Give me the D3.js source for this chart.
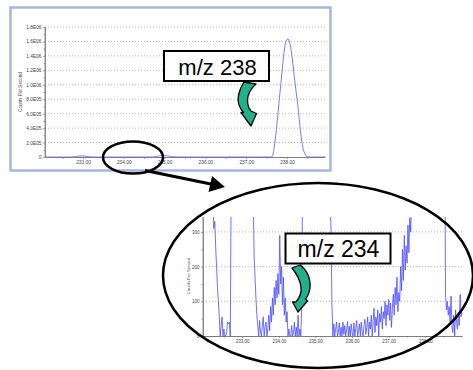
<!DOCTYPE html>
<html><head><meta charset="utf-8">
<script src="https://cdn.jsdelivr.net/npm/d3@7"></script>
<style>body{margin:0;background:#fff} svg{display:block} text{font-family:"Liberation Sans",Arial,sans-serif}</style>
</head><body><svg id="c" width="473" height="370"></svg>
<script>
// ---- DATA ----
const mzStart = 232.0;
const mzStep = 0.025;
const counts = [
  700, 900, 800, 1000, 850, 700, 600, 500,
  400, 310, 330, 260, 200, 140, 100, 55, 0, 30, 55, 0, 20, 0, 0, 10, 40, 35, 40, 0, 450,
  900, 1500, 2500, 4000, 6000, 8500, 11000, 13000, 14500, 15000, 15500, 15000, 14000, 12000, 9500, 7000, 5000, 3200, 2000, 1200, 800, 600, 450,
  420, 230, 170, 110, 60, 30, 0, 45, 10, 0, 30, 55, 0, 25, 40, 0, 20, 60, 15, 85, 40, 110, 60, 140, 90, 160, 110, 180, 120, 290, 150, 200, 90, 170, 60, 110, 40, 70, 0, 20, 0, 0, 30, 0, 10, 40, 0, 25, 0, 60, 0, 20, 0, 80, 500,
  800, 1200, 2000, 3200, 5000, 7500, 10000, 13000, 16000, 18500, 20000, 21000, 21500, 21000, 20000, 18000, 15500, 12500, 9500, 7000, 5000, 3500, 2400, 1700, 1200, 900, 700, 550, 450, 400, 300, 90,
  0, 35, 0, 20, 40, 0, 10, 38, 0, 25, 0, 40, 5, 30, 0, 18, 42, 0, 28, 0, 35, 10, 0, 38, 0, 22, 45, 0, 15, 35, 0, 40, 10, 0, 30, 48, 5, 25, 55, 0, 40,
  20, 60, 0, 45, 80, 10, 55, 30, 75, 0, 65, 40, 85, 20, 70,
  50, 100, 30, 90, 60, 105, 45, 95, 25, 80,
  120, 60, 140, 90, 170, 70, 125, 100,
  200, 130, 250, 160, 290, 190, 260, 210,
  320, 240, 340, 300,
  420, 20000, 90000, 200000, 310000, 440000, 580000, 740000, 880000, 1020000, 1170000, 1310000, 1450000, 1540000, 1600000, 1630000, 1635000, 1610000, 1560000, 1480000, 1380000, 1260000, 1130000, 1010000, 890000, 790000, 660000, 520000, 380000, 260000, 170000, 100000, 60000, 30000, 8000, 2000, 700,
  120, 75, 100, 60, 85, 40, 115, 30, 10, 60, 0, 75, 40, 20, 65, 30, 120, 55, 75
];
const xTickValues = [233, 234, 235, 236, 237, 238];
const xTickLabels = ["233.00", "234.00", "235.00", "236.00", "237.00", "238.00"];
const xMinorTicks = [232.5, 233.5, 234.5, 235.5, 236.5, 237.5, 238.5];
const topYTicks = [0, 200000, 400000, 600000, 800000, 1000000, 1200000, 1400000, 1600000, 1800000];
const topYLabels = ["0", "2.0E05", "4.0E05", "6.0E05", "8.0E05", "1.0E06", "1.2E06", "1.4E06", "1.6E06", "1.8E06"];
const topYMinor = [100000, 300000, 500000, 700000, 900000, 1100000, 1300000, 1500000, 1700000];
const innerYTicks = [0, 100, 200, 300];
const innerYLabels = ["0", "100", "200", "300"];
const innerYMinor = [50, 150, 250];
const yTitle = "Counts Per Second";
const calloutTop = "m/z 238";
const calloutInner = "m/z 234";

const data = counts.map((c, i) => ({ mz: mzStart + i * mzStep, c }));

const svg = d3.select("#c");
const defs = svg.append("defs");

function styleAxis(g, fs, col) {
  g.selectAll("path.domain").attr("stroke", col).attr("stroke-width", 0.8);
  g.selectAll(".tick line").attr("stroke", col).attr("stroke-width", 0.7);
  g.selectAll(".tick text").attr("font-size", fs).attr("fill", "#444")
    .style("font-family", '"Liberation Sans", Arial, sans-serif');
}

// ---------- TOP CHART ----------
svg.append("rect").attr("x", 10.5).attr("y", 7.5).attr("width", 320).attr("height", 163)
  .attr("fill", "#fff").attr("stroke", "#a6b7dc").attr("stroke-width", 2.5);

const xTop = d3.scaleLinear().domain([232.07, 238.93]).range([45, 325]);
const yTop = d3.scaleLinear().domain([0, 1800000]).range([157, 27]);

const gTop = svg.append("g");
gTop.selectAll("line.grid").data(topYTicks.filter(d => d > 0)).join("line")
  .attr("x1", 45).attr("x2", 325).attr("y1", d => yTop(d)).attr("y2", d => yTop(d))
  .attr("stroke", "#999").attr("stroke-width", 0.7).attr("stroke-dasharray", "1,2");

const yAxTop = gTop.append("g").attr("transform", "translate(45,0)")
  .call(d3.axisLeft(yTop).tickValues(topYTicks).tickFormat((d, i) => topYLabels[i]).tickSize(2).tickSizeOuter(0).tickPadding(1.5));
styleAxis(yAxTop, "4.8px", "#777");
const yMinTop = gTop.append("g").attr("transform", "translate(45,0)")
  .call(d3.axisLeft(yTop).tickValues(topYMinor).tickFormat("").tickSize(1.5).tickSizeOuter(0));
styleAxis(yMinTop, "4px", "#777");

const xAxTop = gTop.append("g").attr("transform", "translate(0,157)")
  .call(d3.axisBottom(xTop).tickValues(xTickValues).tickFormat((d, i) => xTickLabels[i]).tickSize(2).tickSizeOuter(0).tickPadding(1.5));
styleAxis(xAxTop, "4.8px", "#777");
const xMinTop = gTop.append("g").attr("transform", "translate(0,157)")
  .call(d3.axisBottom(xTop).tickValues(xMinorTicks).tickFormat("").tickSize(2).tickSizeOuter(0));
styleAxis(xMinTop, "4px", "#777");

gTop.append("text").attr("transform", "translate(22,92) rotate(-90)")
  .attr("text-anchor", "middle").attr("font-size", "4.6px").attr("fill", "#444").text(yTitle);

defs.append("clipPath").attr("id", "clipTop").append("rect")
  .attr("x", 45).attr("y", 20).attr("width", 280).attr("height", 140);
gTop.append("path").datum(data).attr("clip-path", "url(#clipTop)")
  .attr("fill", "none").attr("stroke", "#6b6bf2").attr("stroke-width", 0.9)
  .attr("d", d3.line().x(d => xTop(d.mz)).y(d => yTop(d.c)));

// ---------- INNER (ZOOMED) CHART ----------
const xIn = d3.scaleLinear().domain([231.93, 239.0]).range([203, 462]);
const yIn = d3.scaleLinear().domain([0, 343]).range([336, 217]);
const gIn = svg.append("g");

gIn.selectAll("line.grid").data(innerYTicks.filter(d => d > 0)).join("line")
  .attr("x1", 203).attr("x2", 462).attr("y1", d => yIn(d)).attr("y2", d => yIn(d))
  .attr("stroke", "#999").attr("stroke-width", 0.7).attr("stroke-dasharray", "1,2");

defs.append("clipPath").attr("id", "clipIn").append("rect")
  .attr("x", 203).attr("y", 217).attr("width", 259).attr("height", 120);
gIn.append("path").datum(data).attr("clip-path", "url(#clipIn)")
  .attr("fill", "none").attr("stroke", "#4d4dff").attr("stroke-width", 0.8)
  .attr("d", d3.line().x(d => xIn(d.mz)).y(d => yIn(d.c)));

const yAxIn = gIn.append("g").attr("transform", "translate(203,0)")
  .call(d3.axisLeft(yIn).tickValues(innerYTicks).tickFormat((d, i) => innerYLabels[i]).tickSize(2).tickSizeOuter(0).tickPadding(1.5));
styleAxis(yAxIn, "4.5px", "#777");
const yMinIn = gIn.append("g").attr("transform", "translate(203,0)")
  .call(d3.axisLeft(yIn).tickValues(innerYMinor).tickFormat("").tickSize(1.5).tickSizeOuter(0));
styleAxis(yMinIn, "4px", "#777");
const xAxIn = gIn.append("g").attr("transform", "translate(0,336)")
  .call(d3.axisBottom(xIn).tickValues(xTickValues).tickFormat((d, i) => xTickLabels[i]).tickSize(2).tickSizeOuter(0).tickPadding(2));
styleAxis(xAxIn, "4.5px", "#777");
const xMinIn = gIn.append("g").attr("transform", "translate(0,336)")
  .call(d3.axisBottom(xIn).tickValues(xMinorTicks).tickFormat("").tickSize(1.5).tickSizeOuter(0));
styleAxis(xMinIn, "4px", "#777");
// extend domain of inner y axis to top of plot
yAxIn.select("path.domain").attr("d", "M0,217V336");
yAxTop.select("path.domain").attr("d", "M0,27V157");

gIn.append("text").attr("transform", "translate(189.5,276) rotate(-90)")
  .attr("text-anchor", "middle").attr("font-size", "4.2px").attr("fill", "#444").text(yTitle);

// ---------- ANNOTATIONS ----------
// small ellipse
svg.append("ellipse").attr("cx", 133).attr("cy", 157.5).attr("rx", 30).attr("ry", 16)
  .attr("fill", "none").attr("stroke", "#000").attr("stroke-width", 2.5);
// connecting arrow
svg.append("line").attr("x1", 145).attr("y1", 170.5).attr("x2", 212).attr("y2", 184.3)
  .attr("stroke", "#000").attr("stroke-width", 3);
svg.append("path").attr("d", "M225,187 L208.5,192 L212,176 Z").attr("fill", "#000");
// big ellipse
svg.append("ellipse").attr("cx", 318).attr("cy", 275.5).attr("rx", 155).attr("ry", 92.5)
  .attr("fill", "none").attr("stroke", "#000").attr("stroke-width", 2.5);

// callout boxes
function callout(x, y, w, h, label, tx, ty, fs) {
  svg.append("rect").attr("x", x).attr("y", y).attr("width", w).attr("height", h)
    .attr("fill", "#fff").attr("stroke", "#000").attr("stroke-width", 2);
  svg.append("text").attr("x", tx).attr("y", ty).attr("text-anchor", "middle")
    .attr("font-size", fs).attr("fill", "#000").text(label);
}
callout(164, 51, 105, 30, calloutTop, 217.5, 74.5, "22px");
callout(285.5, 233.5, 105, 30, calloutInner, 338.5, 256.5, "23px");

// green curved arrows
svg.append("path")
  .attr("d", "M244,82 L256,84 Q248,91 247.5,100 Q247.5,107 251,111 L256.5,113.5 L251,126 L241,112.5 L243.5,112.5 Q236.5,105 238.5,95 Q240.5,87 244,82 Z")
  .attr("fill", "#1fb08c").attr("stroke", "#000").attr("stroke-width", 1.3).attr("stroke-linejoin", "round");
svg.append("path")
  .attr("d", "M292,268 L300,265 Q311,273 310,288 Q309,295 305.5,299 L307.5,301 L298,312 L292.5,302 L296,302 Q302,295 301,287 Q300,278 292,268 Z")
  .attr("fill", "#1fb08c").attr("stroke", "#000").attr("stroke-width", 1.3).attr("stroke-linejoin", "round");
</script>
</body></html>
